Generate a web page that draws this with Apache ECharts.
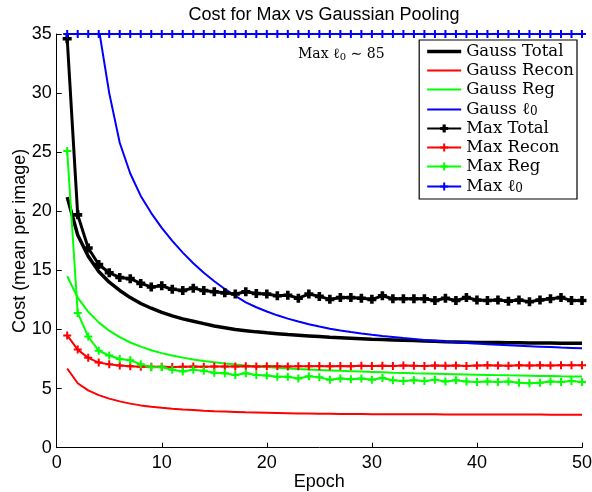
<!DOCTYPE html>
<html>
<head>
<meta charset="utf-8">
<script src="https://cdn.jsdelivr.net/npm/echarts@6/dist/echarts.min.js"></script>
<style>html,body{margin:0;padding:0;background:#fff}#c{width:592px;height:492px}</style>
</head>
<body>
<div id="c"></div>
<script>
var epochs = [1,2,3,4,5,6,7,8,9,10,11,12,13,14,15,16,17,18,19,20,21,22,23,24,25,26,27,28,29,30,31,32,33,34,35,36,37,38,39,40,41,42,43,44,45,46,47,48,49,50];

var gaussTotal = [21.2,18.0,16.2,14.9,14.0,13.3,12.7,12.2,11.8,11.45,11.15,10.9,10.7,10.5,10.3,10.15,10.0,9.9,9.8,9.72,9.65,9.58,9.52,9.46,9.4,9.34,9.3,9.26,9.22,9.18,9.15,9.12,9.09,9.06,9.03,9.0,8.97,8.95,8.93,8.91,8.9,8.89,8.88,8.87,8.86,8.85,8.85,8.84,8.84,8.83];
var gaussRecon = [6.7,5.45,4.85,4.45,4.15,3.92,3.73,3.58,3.47,3.38,3.3,3.23,3.18,3.13,3.09,3.06,3.03,3.0,2.98,2.96,2.94,2.92,2.9,2.89,2.88,2.87,2.86,2.85,2.85,2.84,2.84,2.83,2.83,2.82,2.82,2.82,2.81,2.81,2.81,2.81,2.8,2.8,2.8,2.8,2.8,2.8,2.79,2.79,2.79,2.79];
var gaussReg = [14.5,12.7,11.5,10.6,9.9,9.35,8.9,8.55,8.25,8.0,7.8,7.62,7.47,7.34,7.22,7.12,7.03,6.95,6.88,6.82,6.76,6.71,6.66,6.62,6.58,6.54,6.5,6.47,6.44,6.41,6.38,6.35,6.33,6.3,6.28,6.26,6.24,6.22,6.2,6.18,6.16,6.14,6.12,6.11,6.09,6.07,6.06,6.04,6.03,6.02];
var gaussL0 = [65,50,41,35.5,30.0,25.8,23.2,21.3,19.85,18.6,17.5,16.5,15.6,14.8,14.08,13.43,12.85,12.3,11.88,11.52,11.2,10.92,10.67,10.45,10.25,10.07,9.92,9.79,9.67,9.56,9.46,9.37,9.28,9.2,9.12,9.05,8.98,8.92,8.86,8.81,8.76,8.71,8.67,8.63,8.59,8.55,8.51,8.47,8.44,8.41];

var maxTotal = [34.6,19.7,16.9,15.5,14.8,14.4,14.3,13.9,13.6,13.7,13.4,13.3,13.5,13.3,13.2,13.1,13.0,13.2,13.05,13.0,12.85,12.9,12.65,13.0,12.8,12.55,12.7,12.7,12.65,12.55,12.85,12.6,12.6,12.6,12.6,12.45,12.65,12.45,12.7,12.5,12.45,12.5,12.4,12.5,12.35,12.5,12.6,12.7,12.45,12.45];
var maxRecon = [9.5,8.3,7.6,7.2,7.05,6.95,6.9,6.85,6.85,6.85,6.83,6.85,6.87,6.85,6.87,6.88,6.88,6.9,6.88,6.9,6.9,6.88,6.9,6.9,6.92,6.9,6.92,6.9,6.93,6.92,6.93,6.92,6.95,6.93,6.92,6.95,6.93,6.95,6.92,6.95,6.97,6.95,6.93,6.97,6.95,6.97,6.95,6.98,6.97,6.98];
var maxReg = [25.1,11.4,9.4,8.2,7.8,7.5,7.4,7.05,6.8,6.8,6.6,6.45,6.6,6.5,6.35,6.3,6.15,6.3,6.15,6.1,6.0,6.0,5.85,6.05,5.95,5.75,5.85,5.8,5.85,5.75,5.9,5.7,5.65,5.7,5.65,5.75,5.6,5.7,5.6,5.55,5.6,5.55,5.6,5.5,5.45,5.5,5.6,5.55,5.65,5.55];
var maxL0 = [35,35,35,35,35,35,35,35,35,35,35,35,35,35,35,35,35,35,35,35,35,35,35,35,35,35,35,35,35,35,35,35,35,35,35,35,35,35,35,35,35,35,35,35,35,35,35,35,35,35];

var xTicks = [0, 10, 20, 30, 40, 50];
var yTicks = [0, 5, 10, 15, 20, 25, 30, 35];

var seriesNames = ['Gauss Total','Gauss Recon','Gauss Reg','Gauss \u2113','Max Total','Max Recon','Max Reg','Max \u2113'];

function pairs(ys) { return epochs.map(function (e, i) { return [e, ys[i]]; }); }

var plus = 'path://M3,0H5V3H8V5H5V8H3V5H0V3H3Z';
var plusBold = 'path://M2.4,0H5.6V2.4H8V5.6H5.6V8H2.4V5.6H0V2.4H2.4Z';
var lineIconThick = 'path://M0,0H34V3.6H0Z';
var lineIconThin = 'path://M0,0H34V2H0Z';

function gaussSeries(name, data, color, width) {
  return { name: name, type: 'line', data: pairs(data), symbol: 'none', clip: true,
    lineStyle: { color: color, width: width }, itemStyle: { color: color } };
}
function maxSeries(name, data, color, width, sym, size) {
  return { name: name, type: 'line', data: pairs(data), symbol: sym, symbolSize: size, showSymbol: true, clip: true,
    lineStyle: { color: color, width: width }, itemStyle: { color: color } };
}

var chart = echarts.init(document.getElementById('c'), null, { renderer: 'canvas' });
chart.setOption({
  animation: false,
  backgroundColor: '#fff',
  title: {
    text: 'Cost for Max vs Gaussian Pooling',
    left: 319, top: 1, textAlign: 'center',
    textStyle: { fontFamily: 'Liberation Sans', fontSize: 18, fontWeight: 'normal', color: '#000' }
  },
  grid: { left: 56.7, right: 10, top: 34, bottom: 44.3, containLabel: false, outerBoundsMode: 'none' },
  xAxis: {
    type: 'value', min: 0, max: 50, interval: 10,
    name: 'Epoch', nameLocation: 'middle', nameGap: 25, nameMoveOverlap: false,
    nameTextStyle: { fontFamily: 'Liberation Sans', fontSize: 18, color: '#000', verticalAlign: 'top', lineHeight: 18 },
    axisLine: { lineStyle: { color: '#000', width: 1 } },
    axisTick: { inside: true, length: 5, lineStyle: { color: '#000' } },
    axisLabel: { fontFamily: 'Liberation Sans', fontSize: 18, color: '#000', margin: 6,
      formatter: function (v) { return xTicks.indexOf(v) >= 0 ? String(v) : ''; } },
    splitLine: { show: false }
  },
  yAxis: {
    type: 'value', min: 0, max: 35, interval: 5,
    name: 'Cost (mean per image)', nameLocation: 'middle', nameGap: 28, nameMoveOverlap: false,
    nameTextStyle: { fontFamily: 'Liberation Sans', fontSize: 18, color: '#000', verticalAlign: 'bottom', lineHeight: 18 },
    axisLine: { show: true, lineStyle: { color: '#000', width: 1 } },
    axisTick: { show: true, inside: true, length: 5, lineStyle: { color: '#000' } },
    axisLabel: { fontFamily: 'Liberation Sans', fontSize: 18, color: '#000', margin: 5,
      formatter: function (v) { return yTicks.indexOf(v) >= 0 ? String(v) : ''; } },
    splitLine: { show: false }
  },
  legend: {
    orient: 'vertical', right: 15, top: 40,
    padding: [3, 3, 4, 7], itemGap: 2, itemWidth: 34, itemHeight: 10,
    backgroundColor: '#fff', borderColor: '#000', borderWidth: 1.2, borderRadius: 0,
    data: [
      { name: seriesNames[0], icon: lineIconThick },
      { name: seriesNames[1], icon: lineIconThin },
      { name: seriesNames[2], icon: lineIconThin },
      { name: seriesNames[3], icon: lineIconThin },
      { name: seriesNames[4] },
      { name: seriesNames[5] },
      { name: seriesNames[6] },
      { name: seriesNames[7] }
    ],
    formatter: function (n) {
      if (n.charAt(n.length - 1) === '\u2113') return '{t|' + n + '}{s|0}';
      return '{t|' + n + '}';
    },
    textStyle: {
      fontFamily: 'DejaVu Serif', fontSize: 16.5, color: '#000', lineHeight: 17, padding: [0, 0, 0, 0],
      rich: {
        t: { fontFamily: 'DejaVu Serif', fontSize: 16.5, lineHeight: 17, color: '#000' },
        s: { fontFamily: 'DejaVu Serif', fontSize: 12, lineHeight: 17, color: '#000', verticalAlign: 'bottom', padding: [6, 0, 0, 0] }
      }
    }
  },
  graphic: [{
    type: 'text', left: 298, top: 47,
    style: {
      text: '{t|Max \u2113}{s|0}{t| \u223C 85}',
      rich: {
        t: { fontFamily: 'DejaVu Serif', fontSize: 14, lineHeight: 17, fill: '#000' },
        s: { fontFamily: 'DejaVu Serif', fontSize: 10, lineHeight: 17, fill: '#000', padding: [5, 0, 0, 0] }
      }
    }
  }],
  series: [
    gaussSeries(seriesNames[0], gaussTotal, '#000000', 3.5),
    gaussSeries(seriesNames[1], gaussRecon, '#ff0000', 2),
    gaussSeries(seriesNames[2], gaussReg, '#00ff00', 2),
    gaussSeries(seriesNames[3], gaussL0, '#0000ff', 2),
    maxSeries(seriesNames[4], maxTotal, '#000000', 3, plusBold, 9),
    maxSeries(seriesNames[5], maxRecon, '#ff0000', 2, plus, 8),
    maxSeries(seriesNames[6], maxReg, '#00ff00', 2, plus, 8),
    maxSeries(seriesNames[7], maxL0, '#0000ff', 2, plus, 8)
  ]
});
</script>
</body>
</html>
